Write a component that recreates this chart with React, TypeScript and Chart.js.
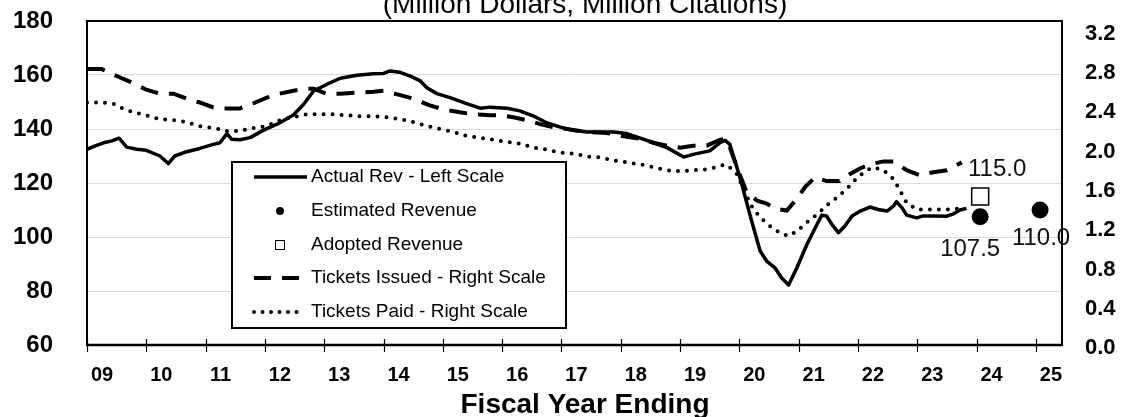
import React, { useEffect, useRef } from 'react';
import { Chart, registerables } from 'chart.js';

Chart.register(...registerables);

const FONT = '"Liberation Sans", Arial, Helvetica, sans-serif';

const chartTitle = '(Million Dollars, Million Citations)';
const xAxisTitle = 'Fiscal Year Ending';

const yearTicks = [2009, 2010, 2011, 2012, 2013, 2014, 2015, 2016, 2017, 2018, 2019, 2020, 2021, 2022, 2023, 2024, 2025];
const leftTicks = [60, 80, 100, 120, 140, 160, 180];
const rightTicks = [0, 0.4, 0.8, 1.2, 1.6, 2.0, 2.4, 2.8, 3.2];

const revLabel = 'Actual Rev - Left Scale';
const revYears = [
  2009.0, 2009.15, 2009.28, 2009.42, 2009.54, 2009.67, 2009.84, 2010.0, 2010.23, 2010.37,
  2010.48, 2010.68, 2010.9, 2011.13, 2011.24, 2011.36, 2011.44, 2011.58, 2011.75, 2011.97,
  2012.25, 2012.48, 2012.65, 2012.82, 2013.04, 2013.27, 2013.55, 2013.83, 2014.0, 2014.11,
  2014.28, 2014.45, 2014.62, 2014.73, 2014.9, 2015.12, 2015.4, 2015.63, 2015.8, 2016.08,
  2016.3, 2016.53, 2016.75, 2016.98, 2017.2, 2017.43, 2017.65, 2017.88, 2018.1, 2018.33,
  2018.55, 2018.78, 2019.06, 2019.22, 2019.5, 2019.67, 2019.76, 2019.84, 2020.01, 2020.2,
  2020.35, 2020.46, 2020.6, 2020.71, 2020.83, 2020.97, 2021.14, 2021.28, 2021.39, 2021.47,
  2021.56, 2021.67, 2021.78, 2021.9, 2022.04, 2022.2, 2022.34, 2022.49, 2022.6, 2022.65,
  2022.74, 2022.82, 2022.99, 2023.1, 2023.27, 2023.5, 2023.61, 2023.72, 2023.83,
];
const revValues = [
  132.5, 133.8, 134.9, 135.6, 136.6, 133.3, 132.5, 132.1, 130.0, 127.2,
  130.0, 131.6, 132.8, 134.3, 134.9, 138.3, 136.2, 136.0, 136.8, 139.5,
  142.3, 145.2, 149.1, 154.1, 156.5, 158.8, 159.9, 160.5, 160.6, 161.5,
  161.0, 159.6, 157.8, 155.3, 153.1, 151.6, 149.4, 147.7, 148.1, 147.7,
  146.7, 144.8, 142.3, 140.7, 139.5, 138.9, 138.9, 138.9, 138.3, 136.6,
  134.9, 133.1, 129.6, 130.6, 131.9, 134.9, 135.8, 134.3, 122.0, 106.5,
  94.8, 91.1, 88.6, 84.9, 82.2, 88.6, 97.3, 103.4, 108.1, 107.8,
  104.7, 101.6, 104.1, 107.8, 109.6, 111.1, 110.2, 109.6, 111.5, 113.1,
  110.9, 108.1, 107.1, 107.8, 107.8, 107.7, 108.6, 110.0, 110.6,
];

const estLabel = 'Estimated Revenue';
const estYears = [2024.06, 2025.07];
const estValues = [107.5, 110.0];

const adoptedLabel = 'Adopted Revenue';
const adoptedYears = [2024.06];
const adoptedValues = [115.0];

const issuedLabel = 'Tickets Issued - Right Scale';
const issuedYears = [
  2009.0, 2009.25, 2009.5, 2009.73, 2010.0, 2010.23, 2010.46, 2010.68, 2010.9, 2011.13,
  2011.36, 2011.58, 2011.8, 2012.03, 2012.25, 2012.48, 2012.7, 2012.82, 2013.04, 2013.27,
  2013.55, 2013.83, 2014.0, 2014.25, 2014.5, 2014.78, 2015.01, 2015.29, 2015.51, 2015.8,
  2015.96, 2016.19, 2016.41, 2016.64, 2016.86, 2017.2, 2017.43, 2017.76, 2018.1, 2018.33,
  2018.55, 2018.78, 2019.0, 2019.22, 2019.45, 2019.67, 2019.76, 2019.84, 2019.96, 2020.12,
  2020.3, 2020.46, 2020.6, 2020.8, 2020.97, 2021.11, 2021.28, 2021.47, 2021.69, 2021.86,
  2022.04, 2022.2, 2022.43, 2022.6, 2022.82, 2023.04, 2023.27, 2023.5, 2023.75,
];
const issuedValues = [
  2.81, 2.81, 2.74, 2.68, 2.60, 2.56, 2.56, 2.51, 2.47, 2.42,
  2.41, 2.41, 2.46, 2.52, 2.56, 2.59, 2.61, 2.61, 2.56, 2.56,
  2.57, 2.58, 2.59, 2.55, 2.51, 2.44, 2.40, 2.37, 2.35, 2.34,
  2.34, 2.32, 2.29, 2.25, 2.22, 2.19, 2.17, 2.16, 2.12, 2.10,
  2.06, 2.03, 2.01, 2.03, 2.03, 2.09, 2.10, 2.01, 1.81, 1.56,
  1.47, 1.44, 1.39, 1.37, 1.49, 1.61, 1.71, 1.67, 1.67, 1.74,
  1.80, 1.84, 1.87, 1.87, 1.78, 1.73, 1.76, 1.78, 1.86,
];

const paidLabel = 'Tickets Paid - Right Scale';
const paidYears = [
  2009.0, 2009.22, 2009.44, 2009.56, 2009.78, 2010.0, 2010.23, 2010.46, 2010.68, 2010.9,
  2011.13, 2011.36, 2011.58, 2011.8, 2012.03, 2012.25, 2012.48, 2012.7, 2012.93, 2013.15,
  2013.38, 2013.6, 2013.83, 2014.05, 2014.28, 2014.5, 2014.73, 2014.95, 2015.18, 2015.4,
  2015.63, 2015.85, 2016.08, 2016.3, 2016.53, 2016.75, 2016.98, 2017.2, 2017.43, 2017.65,
  2017.88, 2018.1, 2018.33, 2018.55, 2018.78, 2019.0, 2019.22, 2019.45, 2019.67, 2019.76,
  2019.84, 2019.96, 2020.1, 2020.2, 2020.35, 2020.52, 2020.69, 2020.83, 2020.97, 2021.14,
  2021.31, 2021.47, 2021.64, 2021.81, 2021.98, 2022.15, 2022.26, 2022.43, 2022.6, 2022.71,
  2022.82, 2022.99, 2023.16, 2023.38, 2023.61, 2023.78,
];
const paidValues = [
  2.47, 2.47, 2.46, 2.42, 2.37, 2.34, 2.30, 2.29, 2.27, 2.23,
  2.21, 2.18, 2.18, 2.21, 2.23, 2.29, 2.32, 2.35, 2.35, 2.35,
  2.34, 2.33, 2.33, 2.32, 2.30, 2.27, 2.23, 2.20, 2.17, 2.13,
  2.11, 2.09, 2.07, 2.05, 2.01, 1.99, 1.96, 1.95, 1.92, 1.91,
  1.88, 1.86, 1.84, 1.81, 1.78, 1.77, 1.78, 1.79, 1.82, 1.84,
  1.81, 1.74, 1.55, 1.42, 1.30, 1.21, 1.14, 1.11, 1.16, 1.25,
  1.33, 1.42, 1.50, 1.59, 1.70, 1.78, 1.81, 1.78, 1.69, 1.57,
  1.45, 1.38, 1.38, 1.38, 1.38, 1.40,
];

const pts = (xs: number[], ys: number[]) => xs.map((x, i) => ({ x, y: ys[i] }));

// label offsets (px) for value labels: [dx, dy]
const estLabelOffsets = [[-10, 33], [1, 28]];
const adoptedLabelOffsets = [[17, -27]];

const noPad = (s: any) => {
  s.paddingTop = 0;
  s.paddingBottom = 0;
  s.paddingLeft = 0;
  s.paddingRight = 0;
};

const framePlugin = {
  id: 'frameAndExtras',
  afterDatasetsDraw(chart: any) {
    const { ctx, chartArea } = chart;
    const { left, right, top, bottom } = chartArea;
    ctx.save();
    // frame
    ctx.strokeStyle = '#000';
    ctx.lineWidth = 2;
    ctx.strokeRect(left, top, right - left, bottom - top);
    ctx.lineWidth = 2.5;
    ctx.beginPath();
    ctx.moveTo(left, bottom);
    ctx.lineTo(right, bottom);
    ctx.stroke();
    // x tick marks crossing the axis
    const xs = chart.scales.x;
    ctx.lineWidth = 1.2;
    xs.ticks.forEach((t: any) => {
      const px = Math.round(xs.getPixelForValue(t.value)) + 0.5;
      ctx.beginPath();
      ctx.moveTo(px, bottom - 6);
      ctx.lineTo(px, bottom + 7);
      ctx.stroke();
    });

    // legend box
    const lx = 232, ly = 162, lw = 334, lh = 166;
    ctx.fillStyle = '#fff';
    ctx.fillRect(lx, ly, lw, lh);
    ctx.lineWidth = 2;
    ctx.strokeStyle = '#000';
    ctx.strokeRect(lx, ly, lw, lh);
    const rowsY = [177, 211, 245, 278, 312];
    const sx0 = 254, sx1 = 307, scx = 280;
    chart.data.datasets.forEach((ds: any, i: number) => {
      const y = rowsY[i];
      ctx.save();
      if (ds.showLine === false) {
        if (ds.pointStyle === 'rect') {
          ctx.fillStyle = '#fff';
          ctx.strokeStyle = '#000';
          ctx.lineWidth = 1;
          ctx.fillRect(scx - 4.5, y - 4.5, 9, 9);
          ctx.strokeRect(scx - 4.5, y - 4.5, 9, 9);
        } else {
          ctx.fillStyle = '#000';
          ctx.beginPath();
          ctx.arc(scx, y, 4, 0, Math.PI * 2);
          ctx.fill();
        }
      } else {
        const dotted = ds.borderDash && ds.borderDash[0] === 0;
        ctx.strokeStyle = '#000';
        ctx.lineWidth = ds.borderWidth;
        ctx.lineCap = ds.borderCapStyle || 'butt';
        ctx.setLineDash(ds.borderDash ? (dotted ? [0, 8.5] : [17, 11]) : []);
        ctx.beginPath();
        ctx.moveTo(sx0, y);
        ctx.lineTo(dotted ? sx1 - 8 : sx1, y);
        ctx.stroke();
      }
      ctx.restore();
      ctx.fillStyle = '#000';
      ctx.font = `19px ${FONT}`;
      ctx.textBaseline = 'middle';
      ctx.textAlign = 'left';
      ctx.fillText(ds.label, 311, y);
    });

    // value labels
    const ys = chart.scales.y;
    ctx.font = `24px ${FONT}`;
    ctx.fillStyle = '#111';
    ctx.textAlign = 'center';
    ctx.textBaseline = 'middle';
    estYears.forEach((yr, i) => {
      const px = xs.getPixelForValue(yr) + estLabelOffsets[i][0];
      const py = ys.getPixelForValue(estValues[i]) + estLabelOffsets[i][1];
      ctx.fillText(estValues[i].toFixed(1), px, py);
    });
    adoptedYears.forEach((yr, i) => {
      const px = xs.getPixelForValue(yr) + adoptedLabelOffsets[i][0];
      const py = ys.getPixelForValue(adoptedValues[i]) + adoptedLabelOffsets[i][1];
      ctx.fillText(adoptedValues[i].toFixed(1), px, py);
    });

    // titles
    ctx.fillStyle = '#000';
    ctx.textBaseline = 'alphabetic';
    ctx.font = `28px ${FONT}`;
    ctx.fillText(chartTitle, 585, 12.5);
    ctx.font = `bold 28px ${FONT}`;
    ctx.fillText(xAxisTitle, 585, 413);
    ctx.restore();
  },
};

export default function App() {
  const ref = useRef<HTMLCanvasElement>(null);
  useEffect(() => {
    if (!ref.current) return;
    Chart.defaults.font.family = FONT;
    const chart = new Chart(ref.current, {
      type: 'line',
      data: {
        datasets: [
          {
            label: revLabel,
            data: pts(revYears, revValues),
            yAxisID: 'y',
            borderColor: '#000',
            backgroundColor: '#000',
            borderWidth: 3.5,
            pointRadius: 0,
            tension: 0,
            borderJoinStyle: 'round',
          },
          {
            label: estLabel,
            data: pts(estYears, estValues),
            yAxisID: 'y',
            showLine: false,
            pointRadius: 8.5,
            pointBackgroundColor: '#000',
            pointBorderColor: '#000',
            pointBorderWidth: 0,
          },
          {
            label: adoptedLabel,
            data: pts(adoptedYears, adoptedValues),
            yAxisID: 'y',
            showLine: false,
            pointStyle: 'rect',
            pointRadius: 12,
            pointBackgroundColor: '#fff',
            pointBorderColor: '#000',
            pointBorderWidth: 1.5,
          },
          {
            label: issuedLabel,
            data: pts(issuedYears, issuedValues),
            yAxisID: 'y1',
            borderColor: '#000',
            borderWidth: 4,
            borderDash: [18, 11],
            pointRadius: 0,
            tension: 0,
          },
          {
            label: paidLabel,
            data: pts(paidYears, paidValues),
            yAxisID: 'y1',
            borderColor: '#000',
            borderWidth: 4,
            borderDash: [0, 9],
            borderCapStyle: 'round',
            pointRadius: 0,
            tension: 0,
          },
        ],
      } as any,
      options: {
        animation: false,
        responsive: true,
        maintainAspectRatio: false,
        devicePixelRatio: 1,
        events: [],
        layout: { padding: { top: 21, left: 0, right: 0, bottom: 0 } },
        plugins: {
          legend: { display: false },
          tooltip: { enabled: false },
          title: { display: false },
        },
        scales: {
          x: {
            type: 'linear',
            min: 2009,
            max: 2025.44,
            afterBuildTicks: (s: any) => { s.ticks = yearTicks.map((value) => ({ value })); },
            afterFit: (s: any) => { s.height = 72; noPad(s); },
            grid: { display: false, drawTicks: false },
            border: { display: false },
            ticks: {
              autoSkip: false,
              maxRotation: 0,
              minRotation: 0,
              padding: 18,
              labelOffset: 15,
              color: '#000',
              font: { size: 20, weight: 'bold' },
              callback: (v: any) => String(Math.round(Number(v)) % 100).padStart(2, '0'),
            },
          },
          y: {
            position: 'left',
            min: 60,
            max: 180,
            afterBuildTicks: (s: any) => { s.ticks = leftTicks.map((value) => ({ value })); },
            afterFit: (s: any) => { s.width = 87; noPad(s); },
            grid: {
              drawTicks: false,
              lineWidth: 1,
              color: (c: any) => (c.tick && (c.tick.value === 60 || c.tick.value === 180) ? 'rgba(0,0,0,0)' : '#d9d9d9'),
            },
            border: { display: false },
            ticks: { padding: 34, color: '#000', font: { size: 24, weight: 'bold' } },
          },
          y1: {
            position: 'right',
            min: 0,
            max: 3.3,
            afterBuildTicks: (s: any) => { s.ticks = rightTicks.map((value) => ({ value })); },
            afterFit: (s: any) => { s.width = 68; noPad(s); },
            grid: { display: false, drawTicks: false },
            border: { display: false },
            ticks: {
              padding: 23,
              labelOffset: 3,
              color: '#000',
              font: { size: 22, weight: 'bold' },
              callback: (v: any) => Number(v).toFixed(1),
            },
          },
        },
      } as any,
      plugins: [framePlugin],
    });
    return () => chart.destroy();
  }, []);
  return (
    <div style={{ position: 'absolute', left: 0, top: 0, width: 1130, height: 417, background: '#fff' }}>
      <canvas ref={ref} />
    </div>
  );
}
